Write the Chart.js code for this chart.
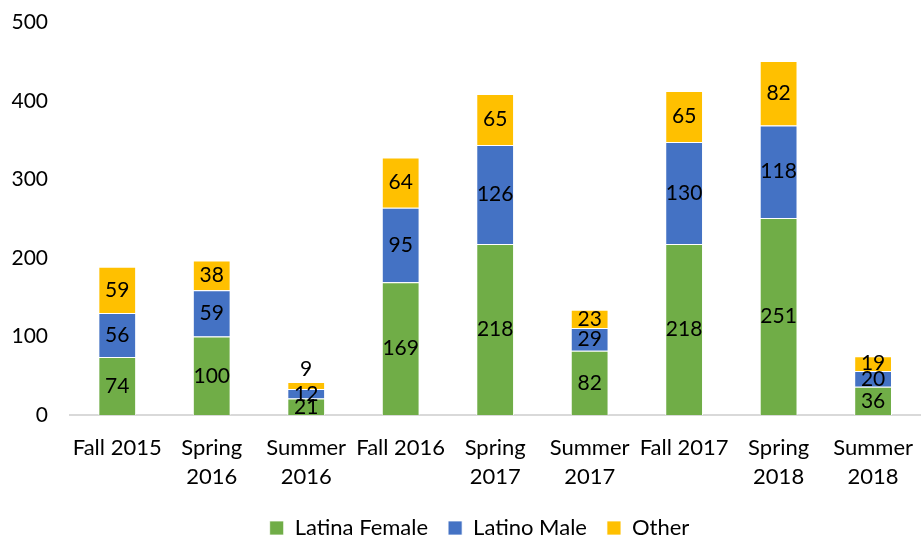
<!DOCTYPE html>
<html>
<head>
<meta charset="utf-8">
<script src="https://cdn.jsdelivr.net/npm/chart.js@4"></script>
<style>
  html, body { margin: 0; padding: 0; background: #fff; overflow: hidden; }
  /* canvas a little taller than the window so the plot sits where the original does */
  #wrap { width: 923px; height: 553px; margin-top: -4px; }
</style>
</head>
<body>
<div id="wrap"><canvas id="chart"></canvas></div>
<script>
// data
const terms = [
    'Fall 2015', ['Spring', '2016'], ['Summer', '2016'],
    'Fall 2016', ['Spring', '2017'], ['Summer', '2017'],
    'Fall 2017', ['Spring', '2018'], ['Summer', '2018']
];
const latinaFemale = [74, 100, 21, 169, 218, 82, 218, 251, 36];
const latinoMale = [56, 59, 12, 95, 126, 29, 130, 118, 20];
const other = [59, 38, 9, 64, 65, 23, 65, 82, 19];
const yTicks = [0, 100, 200, 300, 400, 500];

const FONT = 'Lato, "Open Sans", sans-serif';

// labels in the middle of each segment (tiny ones go above the bar)
const segmentLabels = {
    id: 'segmentLabels',
    afterDatasetsDraw(chart) {
        const ctx = chart.ctx;
        ctx.save();
        ctx.font = '21px ' + FONT;
        ctx.fillStyle = '#000';
        ctx.textAlign = 'center';
        ctx.textBaseline = 'middle';
        chart.data.datasets.forEach((ds, i) => {
            const meta = chart.getDatasetMeta(i);
            meta.data.forEach((bar, j) => {
                const v = ds.data[j];
                let y = (bar.y + bar.base) / 2;
                if (v < 10) y = bar.y - 13;
                ctx.fillText(String(v), bar.x, y);
            });
        });
        ctx.restore();
    }
};

// legend in the original is centred under the plot, not the whole canvas
const legendShift = {
    id: 'legendShift',
    afterLayout(chart) {
        chart.legend.left += 18;
        chart.legend.right += 18;
    }
};

const ctx = document.getElementById('chart').getContext('2d');
new Chart(ctx, {
    type: 'bar',
    data: {
        labels: terms,
        datasets: [
            { label: 'Latina Female', data: latinaFemale, backgroundColor: '#70AD47' },
            { label: 'Latino Male', data: latinoMale, backgroundColor: '#4472C4' },
            { label: 'Other', data: other, backgroundColor: '#FFC000' }
        ]
    },
    options: {
        responsive: true,
        maintainAspectRatio: false,
        animation: false,
        layout: { padding: 0 },
        datasets: {
            bar: {
                categoryPercentage: 1,
                barPercentage: 0.4,
                borderColor: '#ffffff',
                borderWidth: { top: 1, left: 1, right: 1, bottom: 0 }
            }
        },
        plugins: {
            legend: {
                position: 'bottom',
                labels: {
                    boxWidth: 14,
                    boxHeight: 14,
                    padding: 20,
                    color: '#000',
                    font: { family: FONT, size: 22 }
                }
            },
            tooltip: { enabled: false }
        },
        scales: {
            x: {
                stacked: true,
                afterFit(axis) { axis.height = 82; },
                grid: { display: false },
                border: { display: true, color: '#d9d9d9', width: 2 },
                ticks: {
                    color: '#000',
                    padding: 10,
                    maxRotation: 0,
                    minRotation: 0,
                    font: { family: FONT, size: 22, lineHeight: 1.32 }
                }
            },
            y: {
                stacked: true,
                min: 0,
                max: 500,
                afterBuildTicks(axis) {
                    axis.ticks = yTicks.map(v => ({ value: v }));
                },
                afterFit(axis) { axis.width = 70; },
                grid: { display: false },
                border: { display: false },
                ticks: {
                    color: '#000',
                    padding: 14,
                    font: { family: FONT, size: 21 }
                }
            }
        }
    },
    plugins: [segmentLabels, legendShift]
});
</script>
</body>
</html>
